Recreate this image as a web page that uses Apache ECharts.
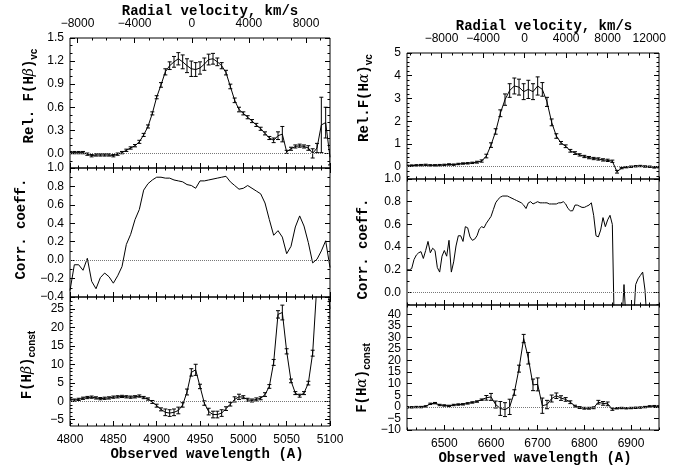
<!DOCTYPE html>
<html><head><meta charset="utf-8">
<script src="https://cdn.jsdelivr.net/npm/echarts@6/dist/echarts.min.js"></script>
<style>html,body{margin:0;padding:0;background:#fff}#c{width:698px;height:470px}</style>
</head><body><div id="c"></div>
<script>
// ---------- DATA ----------
const hbWave = [4800,4805,4810,4815,4820,4825,4830,4835,4840,4845,4850,4855,4860,4865,4870,4875,4880,4885,4890,4895,
  4900,4905,4910,4915,4920,4925,4930,4935,4940,4945,4950,4955,4960,4965,4970,4975,4980,4985,4990,4995,
  5000,5005,5010,5015,5020,5025,5030,5035,5040,5045,5050,5055,5060,5065,5070,5075,5080,5085,5090,5095,5100];
const hbVc = [0.01,0.01,0.01,0.01,-0.01,-0.03,-0.02,-0.02,-0.02,-0.02,
  -0.03,-0.01,0.01,0.04,0.07,0.10,0.15,0.24,0.35,0.52,
  0.73,0.89,1.06,1.14,1.19,1.23,1.19,1.14,1.10,1.09,
  1.11,1.16,1.22,1.23,1.19,1.14,1.05,0.87,0.69,0.57,
  0.52,0.47,0.42,0.37,0.32,0.26,0.20,0.17,0.23,0.25,
  0.02,0.06,0.09,0.10,0.09,0.07,0.00,0.07,0.37,0.40,-0.05];
const hbVcErr = [0.015,0.015,0.015,0.015,0.015,0.015,0.015,0.015,0.015,0.015,
  0.015,0.015,0.015,0.015,0.015,0.015,0.02,0.02,0.02,0.02,
  0.02,0.03,0.04,0.05,0.07,0.08,0.09,0.09,0.10,0.09,
  0.08,0.08,0.07,0.07,0.05,0.04,0.03,0.03,0.03,0.03,
  0.02,0.02,0.02,0.02,0.02,0.02,0.02,0.03,0.05,0.10,
  0.02,0.02,0.02,0.02,0.02,0.03,0.06,0.06,0.36,0.20,0.10];
const hbCorr = [-0.33,-0.05,-0.05,-0.11,0.02,-0.23,-0.31,-0.19,-0.14,-0.18,
  -0.25,-0.17,-0.07,0.17,0.28,0.44,0.55,0.76,0.83,0.87,
  0.90,0.90,0.89,0.89,0.87,0.86,0.85,0.82,0.81,0.78,
  0.86,0.86,0.87,0.88,0.89,0.90,0.91,0.85,0.81,0.77,
  0.78,0.81,0.78,0.75,0.72,0.62,0.44,0.27,0.32,0.25,
  0.07,0.15,0.36,0.48,0.37,0.19,-0.03,0.01,0.10,0.21,-0.08];
const hbConst = [0.6,0.3,0.5,0.8,1.0,1.1,0.9,0.7,0.8,0.9,
  1.1,1.2,1.3,1.2,1.1,1.2,1.4,1.0,0.6,-0.2,
  -1.2,-2.2,-3.0,-3.2,-3.0,-2.5,-1.0,2.5,7.8,8.5,
  4.0,-0.5,-2.8,-3.6,-3.6,-3.2,-2.0,-0.8,0.5,1.2,
  1.1,0.4,0.2,0.5,0.8,1.8,4.0,10.5,23.5,24.0,
  13.5,5.5,2.2,1.5,2.2,4.9,13.0,32.0,40.0,36.0,25.0];
const hbConstErr = [0.3,0.3,0.3,0.3,0.3,0.3,0.3,0.3,0.3,0.3,
  0.3,0.3,0.3,0.3,0.3,0.3,0.3,0.3,0.3,0.4,
  0.4,0.4,0.9,0.9,0.9,0.9,0.6,0.8,1.0,1.5,
  0.6,0.6,0.9,0.9,0.9,0.9,0.5,0.5,0.7,0.7,
  0.4,0.4,0.4,0.4,0.4,0.5,0.5,0.8,1.0,2.0,
  0.7,0.5,0.4,0.4,0.4,0.5,0.8,1.5,1.5,1.5,2.5];

const haWave = [6420,6430,6440,6450,6460,6470,6480,6490,6500,6510,6520,6530,6540,6550,6560,6570,6580,6590,6600,6610,
  6620,6630,6640,6650,6660,6670,6680,6690,6700,6710,6720,6730,6740,6750,6760,6770,6780,6790,6800,6810,
  6820,6830,6840,6850,6860,6870,6880,6890,6900,6910,6920,6930,6940,6950,6960];
const haVc = [0.04,0.05,0.06,0.07,0.08,0.06,0.06,0.07,0.08,0.10,
  0.09,0.12,0.14,0.15,0.17,0.20,0.25,0.47,0.95,1.55,
  2.35,2.95,3.35,3.55,3.50,3.30,3.40,3.30,3.55,3.40,
  2.85,1.95,1.35,1.05,0.90,0.70,0.60,0.52,0.45,0.40,
  0.36,0.34,0.30,0.28,0.24,-0.22,-0.06,-0.02,0.00,0.02,
  0.03,0.01,0.00,-0.03,-0.02];
const haVcErr = [0.03,0.03,0.03,0.03,0.03,0.03,0.03,0.03,0.03,0.03,
  0.03,0.03,0.03,0.03,0.03,0.04,0.05,0.08,0.10,0.12,
  0.15,0.25,0.30,0.35,0.35,0.35,0.40,0.35,0.40,0.30,
  0.20,0.15,0.10,0.06,0.06,0.06,0.06,0.05,0.05,0.05,
  0.05,0.05,0.05,0.05,0.05,0.06,0.03,0.03,0.03,0.03,
  0.03,0.03,0.03,0.03,0.03];
const haCorrWave = [6420,6425,6430,6435,6440,6445,6450,6455,6460,6465,6470,6475,6480,6485,6490,6495,6500,6505,6510,6515,
  6520,6525,6530,6535,6540,6545,6550,6555,6560,6565,6570,6575,6580,6585,6590,6595,6600,6605,6610,6615,
  6620,6625,6630,6635,6640,6645,6650,6655,6660,6665,6670,6675,6680,6685,6690,6695,6700,6705,6710,6715,
  6720,6725,6730,6735,6740,6745,6750,6755,6760,6765,6770,6775,6780,6785,6790,6795,6800,6805,6810,6815,
  6820,6825,6830,6835,6840,6845,6850,6855,6860,6865,6870,6875,6880,6885,6890,6895,6900,6905,6910,6915,
  6920,6925,6930,6935,6940,6945,6950,6955];
const haCorr = [0.20,0.20,0.21,0.29,0.33,0.35,0.36,0.30,0.37,0.45,
  0.35,0.39,0.37,0.22,0.18,0.32,0.37,0.32,0.46,0.18,
  0.27,0.41,0.50,0.50,0.45,0.58,0.57,0.49,0.46,0.47,
  0.50,0.56,0.58,0.57,0.61,0.64,0.67,0.73,0.79,0.82,
  0.84,0.85,0.85,0.85,0.84,0.83,0.82,0.81,0.80,0.79,
  0.77,0.74,0.79,0.80,0.78,0.79,0.80,0.79,0.79,0.79,
  0.79,0.78,0.78,0.78,0.78,0.79,0.79,0.80,0.78,0.74,
  0.72,0.72,0.77,0.77,0.76,0.75,0.75,0.76,0.77,0.79,
  0.68,0.50,0.49,0.55,0.66,0.58,0.64,0.68,0.60,-0.50,
  -0.50,-0.50,-0.30,0.07,-0.30,-0.30,-0.30,-0.30,0.07,0.12,
  0.15,0.18,0.02,-0.30,-0.30,-0.30,-0.30,-0.30];
const haConst = [-0.2,-0.2,-0.1,-0.1,0.2,1.3,1.6,0.8,0.6,0.4,
  0.8,1.0,1.1,1.5,1.9,2.3,3.1,3.9,4.3,1.0,
  -0.7,-1.2,0.0,6.2,16.5,29.5,21.0,9.5,9.7,0.5,
  1.0,3.6,4.8,3.8,3.2,2.0,0.3,-0.3,-0.6,-0.6,
  -0.4,2.0,1.5,1.3,-1.0,-0.6,-0.5,-0.6,-0.5,-0.4,
  -0.3,-0.1,0.2,0.3,0.2];
const haConstErr = [0.3,0.3,0.3,0.3,0.3,0.3,0.3,0.3,0.3,0.3,
  0.3,0.3,0.3,0.3,0.3,0.3,0.3,1.0,1.5,1.5,
  3.0,3.0,3.3,1.2,1.5,1.8,2.5,2.5,2.8,3.3,
  1.8,1.5,1.2,1.0,0.8,0.6,0.4,0.4,0.4,0.4,
  0.4,0.8,0.8,0.8,0.5,0.3,0.3,0.3,0.3,0.3,
  0.3,0.3,0.3,0.3,0.3];

// tick labels
const hbWaveTicks = [4800,4850,4900,4950,5000,5050,5100];
const hbVelTicks = [-8000,-4000,0,4000,8000];
const haWaveTicks = [6500,6600,6700,6800,6900];
const haVelTicks = [-8000,-4000,0,4000,8000,12000];
const hbVcTicks = [0.0,0.3,0.6,0.9,1.2,1.5];
const hbCorrTicks = [-0.4,-0.2,0.0,0.2,0.4,0.6,0.8,1.0];
const hbConstTicks = [-5,0,5,10,15,20,25];
const haVcTicks = [0,1,2,3,4,5];
const haCorrTicks = [0.0,0.2,0.4,0.6,0.8,1.0];
const haConstTicks = [-10,-5,0,5,10,15,20,25,30,35,40];

// ---------- CHART ----------
const FONT = 'Liberation Sans, Arial, sans-serif';
const MONO = 'Liberation Mono, Courier New, monospace';
const grids = [
  {left:70, top:38, width:260, height:130},
  {left:70, top:168, width:260, height:129},
  {left:70, top:297, width:260, height:129},
  {left:407, top:53, width:252, height:126},
  {left:407, top:179, width:252, height:126},
  {left:407, top:305, width:252, height:125}
].map(g => Object.assign({show:true, borderColor:'#000', borderWidth:1, backgroundColor:'transparent'}, g));

const xAxes = [], yAxes = [], series = [];
function fmt(dec){ return v => (dec != null ? Number(v).toFixed(dec) : String(v)).replace('-', '\u2212'); }
function minorVals(min, max, step, majors){
  const out = [];
  const n0 = Math.ceil(min/step - 1e-9), n1 = Math.floor(max/step + 1e-9);
  for (let n = n0; n <= n1; n++) {
    const v = +(n*step).toFixed(6);
    if (!majors.some(m => Math.abs(m - v) < 1e-9)) out.push(v);
  }
  return out;
}
const common = {type:'value', axisLine:{show:false, onZero:false}, splitLine:{show:false}};
function labelStyle(values, opts){
  return Object.assign({show:true, customValues:values, color:'#000', fontFamily:FONT, fontSize:12,
    lineHeight:9, hideOverlap:false, showMinLabel:true, showMaxLabel:true}, opts);
}
function addAxis(list, base, majors, minorStep, labels, labelOpts){
  const idx = list.length;
  list.push(Object.assign({}, common, base, {
    axisTick:{show:true, inside:true, length:5, customValues:majors, lineStyle:{color:'#000', width:1}},
    axisLabel: labels ? labelStyle(labels, labelOpts) : {show:false}
  }));
  if (minorStep) {
    list.push(Object.assign({}, common, base, {
      axisTick:{show:true, inside:true, length:2.5, customValues:minorVals(base.min, base.max, minorStep, majors), lineStyle:{color:'#000', width:1}},
      axisLabel:{show:false}
    }));
  }
  return idx;
}
const zeroLine = {silent:true, symbol:['none','none'], label:{show:false}, animation:false,
  lineStyle:{color:'#777', type:[1,1], width:1}, data:[{yAxis:0}]};

function errRender(params, api){
  const x = api.value(0), y = api.value(1), e = api.value(2);
  const p1 = api.coord([x, y - e]), p2 = api.coord([x, y + e]);
  const st = {stroke:'#000', lineWidth:1};
  return {type:'group', children:[
    {type:'line', shape:{x1:p1[0], y1:p1[1], x2:p2[0], y2:p2[1]}, style:st},
    {type:'line', shape:{x1:p1[0]-2, y1:p1[1], x2:p1[0]+2, y2:p1[1]}, style:st},
    {type:'line', shape:{x1:p2[0]-2, y1:p2[1], x2:p2[0]+2, y2:p2[1]}, style:st}
  ]};
}

function panel(g, cfg){
  const xi = addAxis(xAxes, {gridIndex:g, position:'bottom', min:cfg.xmin, max:cfg.xmax},
    cfg.xTicks, cfg.xMinor, cfg.xLabels ? cfg.xTicks : null, {margin:9, formatter:fmt(null)});
  if (cfg.vel) {
    addAxis(xAxes, {gridIndex:g, position:'top', min:cfg.vel.min, max:cfg.vel.max},
      cfg.vel.ticks, 1000, cfg.vel.ticks, {margin:10, formatter:fmt(null)});
  } else {
    addAxis(xAxes, {gridIndex:g, position:'top', min:cfg.xmin, max:cfg.xmax}, cfg.xTicks, cfg.xMinor, null);
  }
  const yBase = {gridIndex:g, position:'left', min:cfg.ymin, max:cfg.ymax};
  let yLabels = cfg.yTicks;
  if (cfg.splitLabels) {
    // dense labels: spread over two label layers so none is dropped
    yLabels = cfg.yTicks.filter((v, i) => i % 2 === 0);
    yAxes.push(Object.assign({}, common, yBase, {
      axisTick:{show:false},
      axisLabel:labelStyle(cfg.yTicks.filter((v, i) => i % 2 === 1), {margin:6, formatter:fmt(cfg.dec)})
    }));
  }
  const yi = addAxis(yAxes, yBase, cfg.yTicks, cfg.yMinor, yLabels, {margin:6, formatter:fmt(cfg.dec)});
  addAxis(yAxes, {gridIndex:g, position:'right', min:cfg.ymin, max:cfg.ymax}, cfg.yTicks, cfg.yMinor, null);

  series.push({type:'line', xAxisIndex:xi, yAxisIndex:yi, data:cfg.wave.map((w,i)=>[w, cfg.vals[i]]),
    symbol:'none', clip:true, lineStyle:{color:'#000', width:1}, animation:false, markLine:zeroLine});
  if (cfg.err) {
    series.push({type:'custom', xAxisIndex:xi, yAxisIndex:yi, clip:true, animation:false,
      data:cfg.wave.map((w,i)=>[w, cfg.vals[i], cfg.err[i]]), encode:{x:0, y:1}, renderItem:errRender});
  }
}

panel(0, {xmin:4800, xmax:5100, xTicks:hbWaveTicks, xMinor:10, ymin:-0.19, ymax:1.5, yTicks:hbVcTicks, yMinor:0.1, dec:1,
  vel:{min:-8526, max:9680, ticks:hbVelTicks}, wave:hbWave, vals:hbVc, err:hbVcErr});
panel(1, {xmin:4800, xmax:5100, xTicks:hbWaveTicks, xMinor:10, ymin:-0.4, ymax:1.0, yTicks:hbCorrTicks, yMinor:0.1, dec:1,
  wave:hbWave, vals:hbCorr});
panel(2, {xmin:4800, xmax:5100, xTicks:hbWaveTicks, xMinor:10, xLabels:true, ymin:-6.7, ymax:28.2, yTicks:hbConstTicks, yMinor:1, dec:0,
  wave:hbWave, vals:hbConst, err:hbConstErr});
panel(3, {xmin:6420, xmax:6960, xTicks:haWaveTicks, xMinor:20, ymin:-0.54, ymax:5, yTicks:haVcTicks, yMinor:0.2, dec:0,
  vel:{min:-11322, max:12940, ticks:haVelTicks}, wave:haWave, vals:haVc, err:haVcErr});
panel(4, {xmin:6420, xmax:6960, xTicks:haWaveTicks, xMinor:20, ymin:-0.11, ymax:1.0, yTicks:haCorrTicks, yMinor:0.1, dec:1,
  wave:haCorrWave, vals:haCorr});
panel(5, {xmin:6420, xmax:6960, xTicks:haWaveTicks, xMinor:20, xLabels:true, ymin:-10, ymax:44, yTicks:haConstTicks, yMinor:null, dec:0,
  splitLabels:true, wave:haWave, vals:haConst, err:haConstErr});

const titleStyle = {fontFamily:MONO, fontSize:14, fontWeight:'bold', fill:'#000'};
function txt(x, y, text){
  return {type:'text', x, y, style:Object.assign({text, align:'center', verticalAlign:'middle', textAlign:'center', textVerticalAlign:'middle'}, titleStyle)};
}
const rich = {
  a:{fontFamily:MONO, fontSize:14, fontWeight:'bold', lineHeight:20, verticalAlign:'middle', fill:'#000', color:'#000'},
  g:{fontFamily:'DejaVu Serif, serif', fontStyle:'italic', fontSize:14, lineHeight:20, verticalAlign:'middle', fill:'#000', color:'#000'},
  s:{fontFamily:FONT, fontWeight:'bold', fontSize:10, lineHeight:11, verticalAlign:'bottom', fill:'#000', color:'#000'}
};
function vtxt(x, y, text){
  return {type:'text', x, y, rotation:Math.PI/2,
    style:{text, rich, align:'center', verticalAlign:'middle', textAlign:'center', textVerticalAlign:'middle', fontFamily:MONO, fontSize:14, fill:'#000'}};
}

const option = {
  animation:false,
  backgroundColor:'#fff',
  grid:grids,
  xAxis:xAxes,
  yAxis:yAxes,
  series,
  graphic:[
    txt(210, 11, 'Radial velocity, km/s'),
    txt(544, 26, 'Radial velocity, km/s'),
    txt(207, 454, 'Observed wavelength (A)'),
    txt(535, 458, 'Observed wavelength (A)'),
    vtxt(29, 96, '{a|Rel. F(H}{g|β}{a|)}{s|vc}'),
    vtxt(21, 229, '{a|Corr. coeff.}'),
    vtxt(27, 365, '{a|F(H}{g|β}{a|)}{s|const}'),
    vtxt(364, 98, '{a|Rel.F(H}{g|α}{a|)}{s|vc}'),
    vtxt(363, 249, '{a|Corr. coeff.}'),
    vtxt(362, 378, '{a|F(H}{g|α}{a|)}{s|const}')
  ]
};
const chart = echarts.init(document.getElementById('c'), null, {renderer:'canvas'});
chart.setOption(option);
</script>
</body></html>
